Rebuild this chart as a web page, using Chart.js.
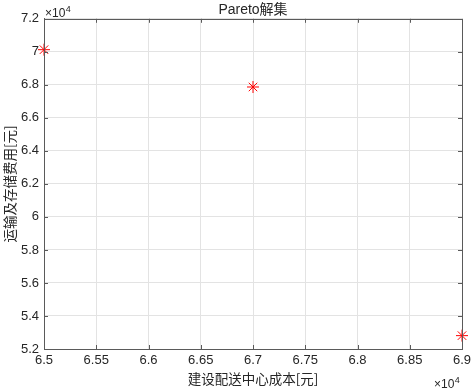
<!DOCTYPE html>
<html>
<head>
<meta charset="utf-8">
<script src="https://cdn.jsdelivr.net/npm/chart.js@4/dist/chart.umd.min.js"></script>
<style>
  html, body { margin: 0; padding: 0; background: #fff; }
  canvas { display: block; }
</style>
</head>
<body>
<canvas id="pareto" width="472" height="390"></canvas>
<script>
const buildCost = [65000, 67000, 69000];
const transportCost = [70130, 67870, 52810];

// axis ranges and tick steps
const xRange = [65000, 69000];
const xStep = 500;
const yRange = [52000, 72000];
const yStep = 2000;

const titleText = 'Pareto解集';
const xTitle = '建设配送中心成本[元]';
const yTitle = '运输及存储费用[元]';

const axisColor = '#5a5a5a';
const textColor = '#262626';
const gridColor = '#e3e3e3';
const latin = '"Liberation Sans", Arial, "Noto Sans CJK SC", sans-serif';
const cjk = '"Noto Sans CJK SC", "Liberation Sans", sans-serif';

// x10^4 multiplier, "4" set right after the "x10"
function drawExponent(ctx, x, y) {
    ctx.font = '12px ' + latin;
    ctx.fillText('×10', x, y);
    const w = ctx.measureText('×10').width;
    ctx.font = '9px ' + latin;
    ctx.fillText('4', x + w + 0.5, y - 5);
}

// box round the plot, inward ticks and the multipliers
const matlabBox = {
    id: 'matlabBox',
    afterDraw(chart) {
        const ctx = chart.ctx;
        const a = chart.chartArea;
        const xs = chart.scales.x, ys = chart.scales.y;
        const tl = 4;
        ctx.save();
        ctx.strokeStyle = axisColor;
        ctx.lineWidth = 1;
        ctx.beginPath();
        xs.ticks.forEach(t => {
            const px = Math.round(xs.getPixelForValue(t.value)) + 0.5;
            ctx.moveTo(px, a.bottom); ctx.lineTo(px, a.bottom - tl);
            ctx.moveTo(px, a.top); ctx.lineTo(px, a.top + tl);
        });
        ys.ticks.forEach(t => {
            const py = Math.round(ys.getPixelForValue(t.value)) + 0.5;
            ctx.moveTo(a.left, py); ctx.lineTo(a.left + tl, py);
            ctx.moveTo(a.right, py); ctx.lineTo(a.right - tl, py);
        });
        ctx.stroke();
        ctx.strokeRect(Math.round(a.left) + 0.5, Math.round(a.top) + 0.5,
            Math.round(a.right - a.left), Math.round(a.bottom - a.top));

        ctx.fillStyle = textColor;
        ctx.textBaseline = 'alphabetic';
        ctx.textAlign = 'left';
        drawExponent(ctx, a.left + 1, a.top - 2);
        drawExponent(ctx, a.right - 28, a.bottom + 39);
        ctx.restore();
    }
};

new Chart(document.getElementById('pareto'), {
    type: 'scatter',
    data: {
        datasets: [{
            data: buildCost.map((x, i) => ({ x: x, y: transportCost[i] })),
            pointStyle: 'star',
            pointRadius: 6,
            pointHoverRadius: 6,
            borderColor: '#ff0000',
            backgroundColor: '#ff0000',
            borderWidth: 1,
            clip: false
        }]
    },
    options: {
        responsive: false,
        animation: false,
        events: [],
        layout: { padding: { left: 0, right: 0, top: 0, bottom: 0 } },
        plugins: {
            legend: { display: false },
            tooltip: { enabled: false },
            title: {
                display: true,
                text: titleText,
                fullSize: false,
                color: textColor,
                font: { family: latin, size: 14, weight: 'normal' },
                padding: { top: 2, bottom: 0 }
            }
        },
        scales: {
            x: {
                type: 'linear',
                min: xRange[0],
                max: xRange[1],
                afterFit: s => { s.height = 41; s.paddingRight = 10; },
                ticks: {
                    stepSize: xStep,
                    color: textColor,
                    font: { family: latin, size: 13 },
                    padding: 4,
                    maxRotation: 0,
                    callback: v => String(v / 1e4)
                },
                grid: { color: gridColor, drawTicks: false },
                border: { color: axisColor },
                title: {
                    display: true,
                    text: xTitle,
                    color: textColor,
                    font: { family: cjk, size: 13.5 },
                    padding: { top: 0, bottom: 3 }
                }
            },
            y: {
                type: 'linear',
                min: yRange[0],
                max: yRange[1],
                afterFit: s => { s.width = 44; },
                ticks: {
                    stepSize: yStep,
                    color: textColor,
                    font: { family: latin, size: 13 },
                    padding: 5,
                    callback: v => String(v / 1e4)
                },
                grid: { color: gridColor, drawTicks: false },
                border: { color: axisColor },
                title: {
                    display: true,
                    text: yTitle,
                    color: textColor,
                    font: { family: cjk, size: 13.5 },
                    padding: { top: 2, bottom: 0 }
                }
            }
        }
    },
    plugins: [matlabBox]
});
</script>
</body>
</html>
